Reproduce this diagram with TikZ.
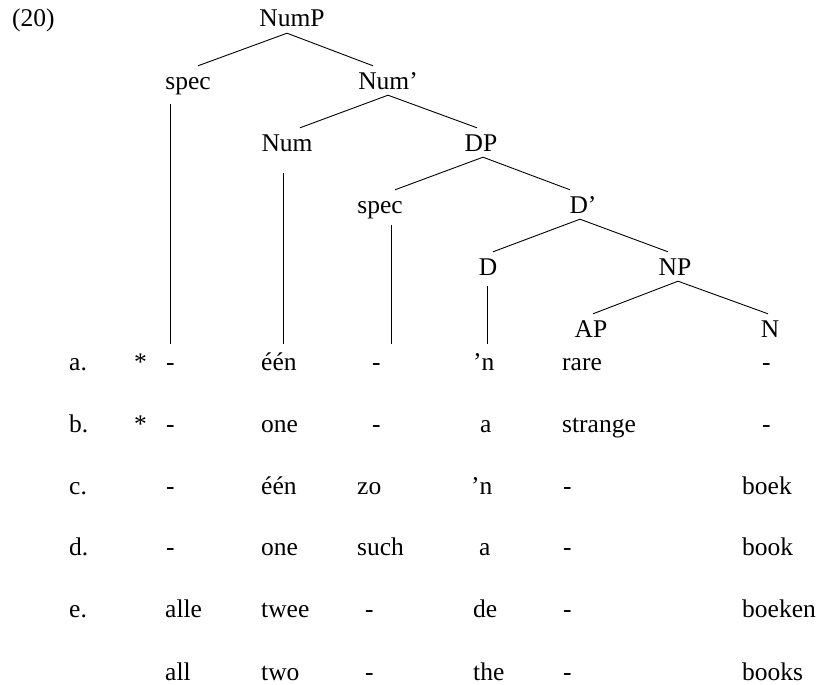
\documentclass[tikz,border=0pt]{standalone}
\usepackage{fontspec}
\setmainfont{Liberation Serif}
\begin{document}
\begin{tikzpicture}[x=1pt,y=-1pt,
  font=\fontsize{25.5}{30}\selectfont,
  tn/.style={inner sep=0pt, anchor=base, text height=23pt, text depth=6pt},
  ct/.style={inner sep=0pt, anchor=base west},
  ln/.style={line width=0.9pt}]
\useasboundingbox (0,0) rectangle (820,685);
\node[ct] (ex) at (12,27) {(20)};
% tree
\node[tn] (numP) at (292,27) {NumP};
\node[tn] (spec1) at (188,89) {spec};
\node[tn] (numbar) at (388,89) {Num’};
\node[tn] (num) at (287,151) {Num};
\node[tn] (dp) at (481,151) {DP};
\node[tn] (spec2) at (380,213) {spec};
\node[tn] (dbar) at (583,213) {D’};
\node[tn] (d) at (488,275) {D};
\node[tn] (np) at (675,275) {NP};
\node[tn] (ap) at (591,337) {AP};
\node[tn] (n) at (770,337) {N};
\draw[ln] ([xshift=-5pt]numP.south) -- ([xshift=10pt]spec1.north);
\draw[ln] ([xshift=-5pt]numP.south) -- ([xshift=-15pt]numbar.north);
\draw[ln] (numbar.south) -- ([xshift=13pt]num.north);
\draw[ln] (numbar.south) -- ([xshift=-4pt]dp.north);
\draw[ln] ([xshift=2pt]dp.south) -- ([xshift=15pt]spec2.north);
\draw[ln] ([xshift=2pt]dp.south) -- ([xshift=-13pt]dbar.north);
\draw[ln] ([xshift=-3pt]dbar.south) -- ([xshift=5pt]d.north);
\draw[ln] ([xshift=-3pt]dbar.south) -- ([xshift=-7pt]np.north);
\draw[ln] ([xshift=3pt]np.south) -- ([xshift=2pt]ap.north);
\draw[ln] ([xshift=3pt]np.south) -- ([xshift=-2pt]n.north);
% vertical lines down to the rows
\coordinate (rowtop) at (0,344);
\coordinate (v1) at ([xshift=-18pt,yshift=-15pt]spec1.base);
\coordinate (v2) at ([xshift=-4pt,yshift=-22pt]num.base);
\coordinate (v3) at ([xshift=11pt,yshift=-12pt]spec2.base);
\coordinate (v4) at ([xshift=-1pt,yshift=-11pt]d.base);
\draw[ln] (v1) -- (v1 |- rowtop);
\draw[ln] (v2) -- (v2 |- rowtop);
\draw[ln] (v3) -- (v3 |- rowtop);
\draw[ln] (v4) -- (v4 |- rowtop);
% row a
\node[ct] (a0) at (69,370) {a.};
\node[ct] (as) at (134,370) {*};
\node[ct] (a1) at (166,370) {-};
\node[ct] (a2) at (261,370) {één};
\node[ct] (a3) at (372,370) {-};
\node[ct] (a4) at (473,370) {’n};
\node[ct] (a5) at (562,370) {rare};
\node[ct] (a6) at (762,370) {-};
% row b
\node[ct] (b0) at (69,432) {b.};
\node[ct] (bs) at (134,432) {*};
\node[ct] (b1) at (166,432) {-};
\node[ct] (b2) at (261,432) {one};
\node[ct] (b3) at (372,432) {-};
\node[ct] (b4) at (480,432) {a};
\node[ct] (b5) at (562,432) {strange};
\node[ct] (b6) at (762,432) {-};
% row c
\node[ct] (c0) at (69,494) {c.};
\node[ct] (c1) at (166,494) {-};
\node[ct] (c2) at (261,494) {één};
\node[ct] (c3) at (357,494) {zo};
\node[ct] (c4) at (471,494) {’n};
\node[ct] (c5) at (563,494) {-};
\node[ct] (c6) at (742,494) {boek};
% row d
\node[ct] (d0) at (69,555) {d.};
\node[ct] (d1) at (166,555) {-};
\node[ct] (d2) at (261,555) {one};
\node[ct] (d3) at (357,555) {such};
\node[ct] (d4) at (479,555) {a};
\node[ct] (d5) at (563,555) {-};
\node[ct] (d6) at (742,555) {book};
% row e
\node[ct] (e0) at (69,617) {e.};
\node[ct] (e1) at (165,617) {alle};
\node[ct] (e2) at (261,617) {twee};
\node[ct] (e3) at (365,617) {-};
\node[ct] (e4) at (473,617) {de};
\node[ct] (e5) at (563,617) {-};
\node[ct] (e6) at (742,617) {boeken};
% gloss row
\node[ct] (f1) at (165,680) {all};
\node[ct] (f2) at (261,680) {two};
\node[ct] (f3) at (365,680) {-};
\node[ct] (f4) at (473,680) {the};
\node[ct] (f5) at (563,680) {-};
\node[ct] (f6) at (742,680) {books};
\end{tikzpicture}
\end{document}
